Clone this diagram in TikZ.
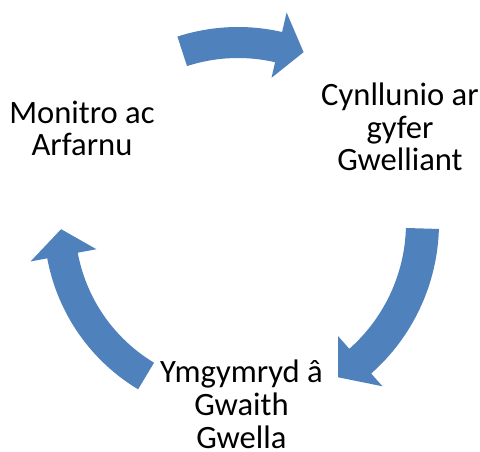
\documentclass[tikz,border=0pt]{standalone}
\usepackage{fontspec}
\setmainfont{Carlito}
\definecolor{arrowblue}{HTML}{4F81BD}
\newcommand\cyclearrow[8]{%
  % #1 tail angle, #2 head base angle, #3 tip angle, #4 inner r, #5 outer r,
  % #6 inner barb r, #7 outer barb r, #8 tip r
  \fill[arrowblue] (#1:#5) arc[start angle=#1, end angle=#2, radius=#5]
    -- (#2:#7) -- (#3:#8) -- (#2:#6) -- (#2:#4)
    arc[start angle=#2, end angle=#1, radius=#4] -- cycle;}
\begin{document}
\begin{tikzpicture}[x=1pt,y=-1pt,
  lbl/.style={font=\fontsize{32.6}{32.7}\selectfont, align=center, inner sep=0pt, anchor=base, text=black}]
\useasboundingbox (0,0) rectangle (480,452);
\begin{scope}[shift={(238,223)}, yscale=-1]
  \cyclearrow{108}{77}{69}{165}{196}{149}{216}{183}
  \cyclearrow{-1.7}{-48.5}{-57}{168}{201}{151}{218}{184}
  \cyclearrow{239}{190.5}{182}{163}{194}{144}{211}{177}
\end{scope}
\node[lbl] (mon) at (82,156) {Monitro ac\\Arfarnu};
\node[lbl] (cyn) at (400,171) {Cynllunio ar\\gyfer\\Gwelliant};
\node[lbl] (ymg) at (241.5,448) {Ymgymryd â\\Gwaith\\Gwella};
\end{tikzpicture}
\end{document}
